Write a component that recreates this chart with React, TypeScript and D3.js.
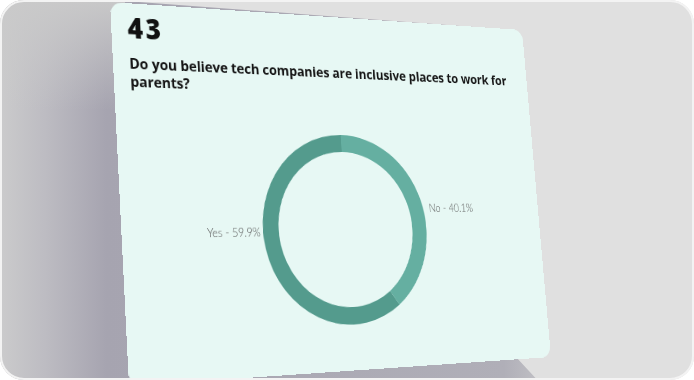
import React, { useEffect, useRef } from "react";
import * as d3 from "d3";

// ---- data ----
const questionNumber = "43";
const questionLines = [
  "Do you believe tech companies are inclusive places to work for",
  "parents?",
];
const categories = ["Yes", "No"];
const values = [59.9, 40.1];
const colors = ["#549b8d", "#65afa1"];

// ---- layout ----
const FW = 694;
const FH = 380;
const CW = 560; // card local width
const CH = 413; // card local height
const QUAD: [number, number][] = [
  [110, 2],
  [522, 30],
  [551, 357],
  [129, 386],
];

function matrix3d(w: number, h: number, q: [number, number][]) {
  const [[x0, y0], [x1, y1], [x2, y2], [x3, y3]] = q;
  const dx1 = x1 - x2, dx2 = x3 - x2, dx3 = x0 - x1 + x2 - x3;
  const dy1 = y1 - y2, dy2 = y3 - y2, dy3 = y0 - y1 + y2 - y3;
  const den = dx1 * dy2 - dx2 * dy1;
  const g = (dx3 * dy2 - dx2 * dy3) / den;
  const hh = (dx1 * dy3 - dx3 * dy1) / den;
  const a = x1 - x0 + g * x1;
  const b = x3 - x0 + hh * x3;
  const d = y1 - y0 + g * y1;
  const e = y3 - y0 + hh * y3;
  const m = [
    a / w, d / w, 0, g / w,
    b / h, e / h, 0, hh / h,
    0, 0, 1, 0,
    x0, y0, 0, 1,
  ];
  return `matrix3d(${m.join(",")})`;
}

function Card() {
  const ref = useRef<SVGSVGElement>(null);
  useEffect(() => {
    const svg = d3.select(ref.current);
    svg.selectAll("*").remove();
    svg
      .append("rect")
      .attr("x", 0)
      .attr("y", 0)
      .attr("width", CW)
      .attr("height", CH)
      .attr("rx", 14)
      .attr("fill", "#e7f8f4");

    svg
      .append("text")
      .attr("x", 19)
      .attr("y", 39)
      .attr("font-family", "'Open Sans', Lato, sans-serif")
      .attr("font-weight", 800)
      .attr("font-size", 31)
      .attr("letter-spacing", 3)
      .attr("fill", "#111")
      .text(questionNumber);

    svg
      .selectAll("text.q")
      .data(questionLines)
      .join("text")
      .attr("class", "q")
      .attr("x", 19)
      .attr("y", (_, i) => 73 + i * 20)
      .attr("font-family", "'Open Sans', Lato, sans-serif")
      .attr("font-weight", 700)
      .attr("font-size", 16.5)
      .attr("letter-spacing", -0.1)
      .attr("fill", "#151515")
      .text((t) => t);

    const cx = 280, cy = 251, R = 110, r = 90;
    const total = d3.sum(values);
    const start = -(values[0] / total) * 2 * Math.PI;
    const pie = d3
      .pie<number>()
      .sort(null)
      .startAngle(start)
      .endAngle(start + 2 * Math.PI);
    const arcs = pie(values);
    const arc = d3.arc<d3.PieArcDatum<number>>().innerRadius(r).outerRadius(R);
    const g = svg.append("g").attr("transform", `translate(${cx},${cy})`);
    g.selectAll("path")
      .data(arcs)
      .join("path")
      .attr("d", arc)
      .attr("fill", (_, i) => colors[i]);

    const labelPos = [
      { x: -R - 3, y: 7, anchor: "end" },
      { x: R + 6, y: -19, anchor: "start" },
    ];
    g.selectAll("text")
      .data(arcs)
      .join("text")
      .attr("x", (_, i) => labelPos[i].x)
      .attr("y", (_, i) => labelPos[i].y)
      .attr("text-anchor", (_, i) => labelPos[i].anchor)
      .attr("font-family", "Lato, 'Open Sans', sans-serif")
      .attr("font-weight", 300)
      .attr("font-size", 13)
      .attr("fill", "#555")
      .text((d, i) => `${categories[i]} - ${values[i]}%`);
  }, []);
  return (
    <svg
      ref={ref}
      width={CW}
      height={CH}
      style={{
        position: "absolute",
        left: 0,
        top: 0,
        transformOrigin: "0 0",
        transform: matrix3d(CW, CH, QUAD),
      }}
    />
  );
}

export default function App() {
  return (
    <div
      style={{
        position: "fixed",
        left: 0,
        top: 0,
        width: FW,
        height: FH,
        background: "#ffffff",
      }}
    >
      <div
        style={{
          position: "absolute",
          left: 0,
          top: 0,
          width: FW,
          height: FH,
          borderRadius: 24,
          overflow: "hidden",
        }}
      >
        <svg
          width={FW}
          height={FH}
          style={{ position: "absolute", left: 0, top: 0 }}
        >
          <defs>
            <linearGradient
              id="shadowGrad"
              gradientUnits="userSpaceOnUse"
              x1={0}
              y1={0}
              x2={560}
              y2={0}
            >
              <stop offset="0" stopColor="#cbcbcc" />
              <stop offset="0.08" stopColor="#bdbcc2" />
              <stop offset="0.19" stopColor="#a6a4b0" />
              <stop offset="0.9" stopColor="#b0afb8" />
              <stop offset="1" stopColor="#c9c9cc" />
            </linearGradient>
            <linearGradient id="topFade" x1="0" y1="0" x2="0" y2="1">
              <stop offset="0" stopColor="#cacaca" stopOpacity={0.95} />
              <stop offset="1" stopColor="#cacaca" stopOpacity={0} />
            </linearGradient>
          </defs>
          <rect width={FW} height={FH} fill="#e0e0e0" />
          <path
            d="M0,0 L112,0 L515,30 L516,357 L542,385 L0,385 Z"
            fill="url(#shadowGrad)"
          />
          <rect x={0} y={0} width={125} height={110} fill="url(#topFade)" />
        </svg>
        <Card />
      </div>
      <svg
        width={FW}
        height={FH}
        style={{ position: "absolute", left: 0, top: 0, pointerEvents: "none" }}
      >
        <rect
          x={1}
          y={1}
          width={FW - 2}
          height={FH - 2}
          rx={23}
          fill="none"
          stroke="#f3f3f3"
          strokeWidth={2}
        />
      </svg>
    </div>
  );
}
